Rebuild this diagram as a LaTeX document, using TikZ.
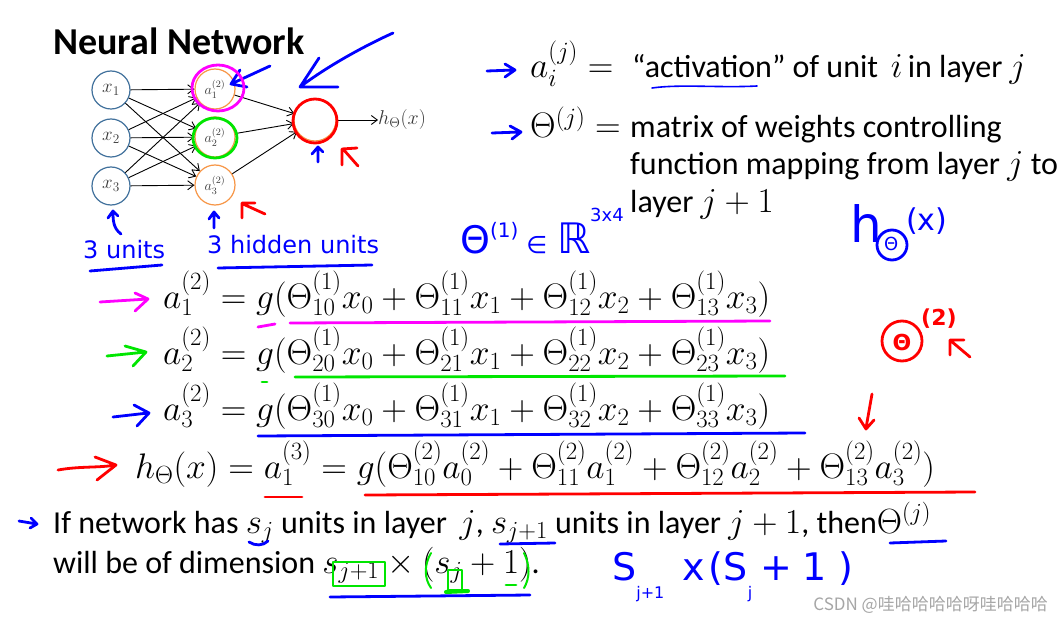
\documentclass[tikz,border=0pt]{standalone}
\usepackage{fix-cm}
\usepackage{amsmath}
\usepackage[no-math]{fontspec}
\setmainfont{Carlito}
\newfontfamily\handfont{DejaVu Sans}
\newfontfamily\cjkfont{Noto Sans CJK SC}
\usetikzlibrary{arrows.meta}
\definecolor{inblue}{RGB}{65,113,156}
\definecolor{hidorange}{RGB}{247,150,70}
\definecolor{labgray}{RGB}{60,60,60}
\definecolor{penblue}{RGB}{0,0,255}
\definecolor{penred}{RGB}{255,0,0}
\definecolor{penmag}{RGB}{255,0,255}
\definecolor{pengreen}{RGB}{0,230,0}
\newcommand\mth[1]{{\fontsize{35}{37}\selectfont$#1$}}

\begin{document}
\begin{tikzpicture}[x=1pt, y=-1pt,
  unit/.style={circle, minimum size=38pt, inner sep=0pt, line width=1.2pt, text=labgray},
  inunit/.style={unit, draw=inblue, font=\fontsize{19}{19}\selectfont},
  hidunit/.style={unit, minimum size=40pt, draw=hidorange, font=\fontsize{14}{14}\selectfont},
  edge/.style={-{Straight Barb[length=6pt,width=9pt]}, line width=0.9pt},
  txt/.style={anchor=base west, inner sep=0pt, font=\fontsize{32}{37}\selectfont},
  eqn/.style={anchor=base west, inner sep=0pt, font=\fontsize{35.5}{40}\selectfont},
  pen/.style={line width=2.8pt, line cap=round, line join=round},
  hand/.style={anchor=base west, inner sep=0pt, text=penblue, font=\handfont\fontsize{24}{24}\selectfont}]
  \path[use as bounding box, fill=white] (0,0) rectangle (1064,620);

  % title
  \node[anchor=base west, inner sep=0pt, font=\fontsize{38}{44}\selectfont\bfseries] (title) at (53,55) {Neural Network};

  % network
  \node[inunit] (x1) at (111,90) {$x_1$};
  \node[inunit] (x2) at (111,138) {$x_2$};
  \node[inunit] (x3) at (111,186) {$x_3$};
  \node[hidunit] (a1) at (215,89) {$a_1^{(2)}$};
  \node[hidunit] (a2) at (215,137) {$a_2^{(2)}$};
  \node[hidunit] (a3) at (215,185) {$a_3^{(2)}$};
  \node[hidunit, minimum size=42pt] (out) at (315,120) {};
  \node[anchor=west, inner sep=0pt, text=labgray, font=\fontsize{20}{20}\selectfont] (hx) at (378,120) {$h_\Theta(x)$};
  \foreach \i in {1,2,3}
    \foreach \j in {1,2,3}
      \draw[edge] (x\i) -- (a\j);
  \foreach \j in {1,2,3}
    \draw[edge] (a\j) -- (out);
  \draw[edge] (out) -- (hx);

  % definitions
  \node[eqn] (aij) at (530,78) {$a_i^{(j)} =$};
  \node[txt] (actdef) at (632,78) {“activation” of unit \,\mth{i}\,in layer \mth{j}};
  \node[eqn] (thj) at (530,138) {$\Theta^{(j)} =$};
  \node[txt] (thdef1) at (630,138) {matrix of weights controlling};
  \node[txt] (thdef2) at (630,175) {function mapping from layer \mth{j} to};
  \node[txt] (thdef3) at (630,213) {layer \mth{j+1}};

  % equations
  \node[eqn] (eq1) at (163,308) {$a_1^{(2)} = g(\Theta_{10}^{(1)}x_0 + \Theta_{11}^{(1)}x_1 + \Theta_{12}^{(1)}x_2 + \Theta_{13}^{(1)}x_3)$};
  \node[eqn] (eq2) at (163,364) {$a_2^{(2)} = g(\Theta_{20}^{(1)}x_0 + \Theta_{21}^{(1)}x_1 + \Theta_{22}^{(1)}x_2 + \Theta_{23}^{(1)}x_3)$};
  \node[eqn] (eq3) at (163,420) {$a_3^{(2)} = g(\Theta_{30}^{(1)}x_0 + \Theta_{31}^{(1)}x_1 + \Theta_{32}^{(1)}x_2 + \Theta_{33}^{(1)}x_3)$};
  \node[eqn] (eq4) at (135,478) {$h_\Theta(x) = a_1^{(3)} = g(\Theta_{10}^{(2)}a_0^{(2)} + \Theta_{11}^{(2)}a_1^{(2)} + \Theta_{12}^{(2)}a_2^{(2)} + \Theta_{13}^{(2)}a_3^{(2)})$};

  % dimension rule
  \node[txt] (dim1) at (53,533) {If network has \mth{s_j} units in layer \,\mth{j}, \mth{s_{j+1}} units in layer \mth{j+1}, then\mth{\Theta^{(j)}}};
  \node[txt] (dim2) at (53,573) {will be of dimension \mth{s_{j+1}\times(s_j+1)}.};

  % watermark
  \node[anchor=base east, inner sep=0pt, text=gray!70, font=\cjkfont\fontsize{17}{17}\selectfont] (mark) at (1048,610) {CSDN @哇哈哈哈哈呀哇哈哈哈};

  % blue pen
  \begin{scope}[pen, penblue]
    \draw (487,71) -- (514,70) (505,64) -- (515,70) -- (505,77);
    \draw (492,133) -- (520,132) (510,126) -- (521,132) -- (512,139);
    \draw (270,66) -- (231,84) (240,70) -- (231,84) -- (247,87);
    \draw (393,33) .. controls (360,48) and (325,68) .. (300,87) (319,58) -- (300,87) -- (338,87);
    \draw (318,162) -- (318,148) (312,154) -- (318,147) -- (323,152);
    \draw (121,234) .. controls (113,228) and (113,220) .. (113,211) (108,218) -- (113,211) -- (118,216);
    \draw (214,228) -- (214,213) (209,219) -- (214,212) -- (219,218);
    \draw (90,271) -- (162,265);
    \draw (218,268) -- (372,265);
    \draw[line width=1.6pt] (652,88) .. controls (680,84) and (720,88) .. (757,86);
    \draw (113,417) -- (148,413) (134,405) -- (149,413) -- (137,426);
    \draw (258,436) -- (805,433);
    \draw (19,521) -- (37,524) (31,518) -- (37,524) -- (30,528);
    \draw (249,542) .. controls (255,546) and (263,546) .. (268,541);
    \draw (500,544) -- (555,543);
    \draw (890,543) -- (946,541);
    \draw (330,597) -- (530,595);
    \draw (892,245) circle (15);
  \end{scope}
  \node[hand] (units3) at (83,258) {3 units};
  \node[hand] (hidden3) at (207,253) {3 hidden units};
  \node[hand, font=\handfont\fontsize{38}{38}\selectfont] (thetaR) at (460,253)
    {Θ\raisebox{16pt}{\fontsize{20}{20}\selectfont(1)}\hspace{8pt}{\fontsize{24}{24}\selectfont∈}\hspace{10pt}{\fontsize{42}{42}\selectfont ℝ}};
  \node[hand, font=\handfont\fontsize{18}{18}\selectfont] (dim34) at (590,222) {3x4};
  \node[hand, font=\handfont\fontsize{50}{50}\selectfont] (hh) at (850,242) {h};
  \node[hand, font=\handfont\fontsize{18}{18}\selectfont] (hth) at (884,251) {Θ};
  \node[hand, font=\handfont\fontsize{30}{30}\selectfont] (hxx) at (906,230) {(x)};
  \node[hand, font=\handfont\fontsize{38}{38}\selectfont] (sdim) at (612,580)
    {S\raisebox{-18pt}{\fontsize{16}{16}\selectfont j+1}\hspace{18pt}x\hspace{4pt}(S\raisebox{-18pt}{\fontsize{16}{16}\selectfont j}\hspace{8pt}+\hspace{10pt}1\hspace{12pt})};

  % magenta pen
  \begin{scope}[pen, penmag]
    \draw (218,88) ellipse (26 and 23);
    \draw (100,302) -- (148,299) (135,293) -- (148,299) -- (135,311);
    \draw (290,323) -- (770,321);
    \draw (258,327) -- (275,324);
  \end{scope}

  % green pen
  \begin{scope}[pen, pengreen]
    \draw (215,138) ellipse (22 and 20);
    \draw (107,356) -- (146,352) (125,346) -- (146,352) -- (133,366);
    \draw (295,377) -- (785,376);
    \draw (262,382) -- (267,382);
    \draw[line width=2pt] (333,562) rectangle (385,586);
    \draw[line width=2pt] (448,570) rectangle (462,590);
    \draw[line width=2pt] (431,553) .. controls (424,565) and (424,578) .. (431,588);
    \draw[line width=2pt] (524,553) .. controls (530,565) and (530,578) .. (524,588);
    \draw[line width=4pt] (446,592) -- (468,591);
    \draw (506,585) -- (516,585);
  \end{scope}

  % red pen
  \begin{scope}[pen, penred]
    \draw (315,121) circle (22);
    \draw (358,166) -- (343,149) (342,165) -- (342,149) -- (357,148);
    \draw (265,214) -- (243,204) (242,218) -- (242,203) -- (255,203);
    \draw (58,470) .. controls (80,466) and (100,468) .. (115,465) (95,457) -- (116,465) -- (97,480);
    \draw (265,497) -- (302,497);
    \draw (365,495) -- (975,492);
    \draw (902,341) circle (20);
    \draw (970,357) -- (951,341) (950,355) -- (950,340) -- (964,340);
    \draw (872,394) -- (866,428) (859,418) -- (866,429) -- (874,420);
  \end{scope}
  \node[anchor=center, inner sep=0pt, text=penred, font=\handfont\bfseries\fontsize{22}{22}\selectfont] (rth) at (902,342) {Θ};
  \node[anchor=base west, inner sep=0pt, text=penred, font=\handfont\bfseries\fontsize{22}{22}\selectfont] (rsup) at (921,325) {(2)};
\end{tikzpicture}
\end{document}
